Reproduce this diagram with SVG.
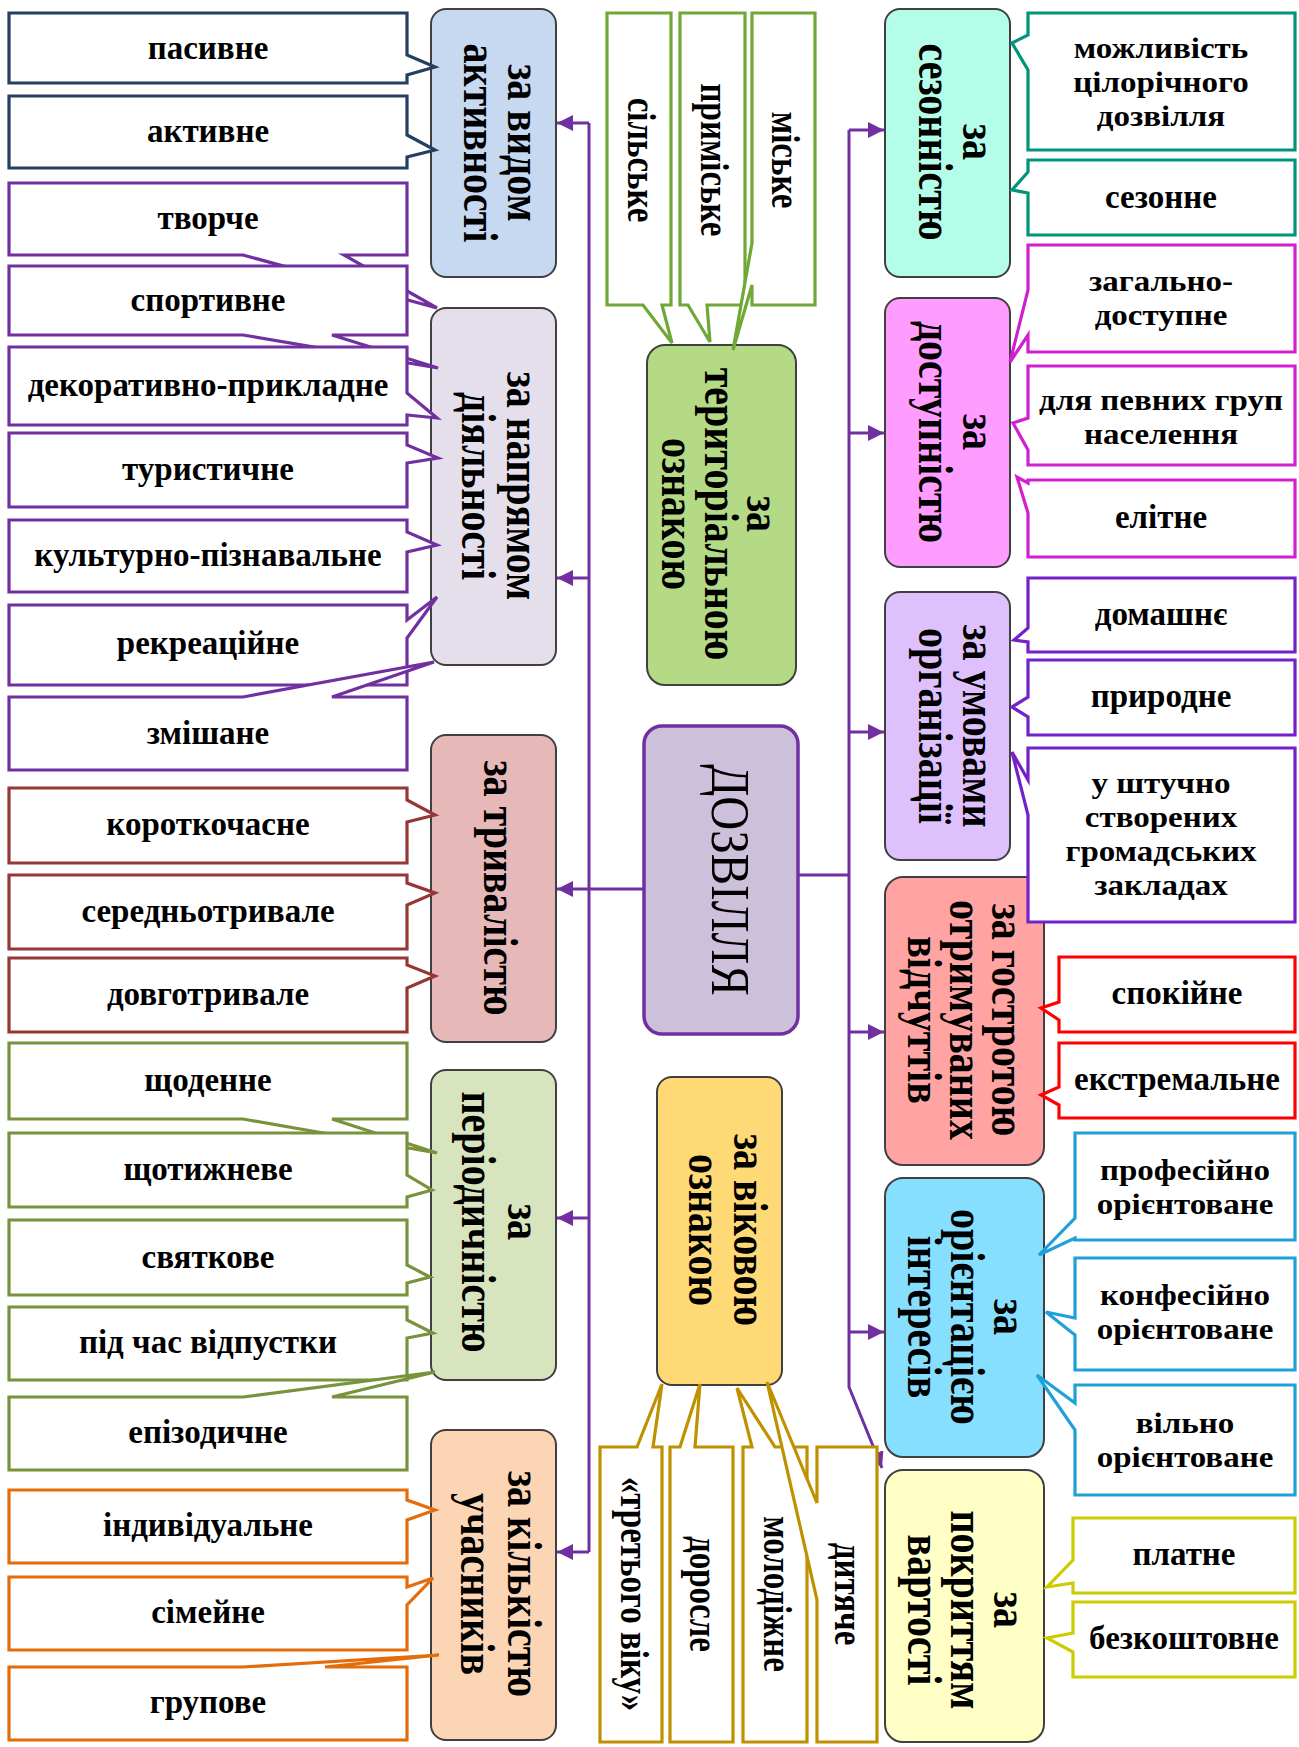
<svg xmlns="http://www.w3.org/2000/svg" width="1299" height="1747" viewBox="0 0 1299 1747">
<defs>
<style>
.cat{stroke:#404040;stroke-width:2}
.co{fill:#fff;stroke-width:3.2;stroke-linejoin:miter}
.t{font-family:"Liberation Serif","Times New Roman",serif;font-weight:bold;font-size:33px;text-anchor:middle;fill:#000}
.m{font-family:"Liberation Serif","Times New Roman",serif;font-weight:bold;font-size:30px;text-anchor:middle;fill:#000}
.r{font-family:"Liberation Serif","Times New Roman",serif;font-weight:bold;font-size:40px;text-anchor:middle;fill:#000}
.d{font-family:"Liberation Serif","Times New Roman",serif;font-size:47px;text-anchor:middle;fill:#000}
.cn{fill:none;stroke:#7030a0;stroke-width:3}
.navy{stroke:#243f60}.pur{stroke:#7030a0}.brn{stroke:#953735}.olv{stroke:#77933c}.org{stroke:#e46c0a}
.grn{stroke:#6fa836}.gld{stroke:#bf9000}.tea{stroke:#00957a}.mag{stroke:#d020d0}.vio{stroke:#7321c8}
.red{stroke:#ff0000}.blu{stroke:#1fa0d8}.yel{stroke:#cccc00}
</style>
<marker id="arr" viewBox="0 0 10 10" refX="10" refY="5" markerWidth="16" markerHeight="16" markerUnits="userSpaceOnUse" orient="auto"><path d="M0,0 L10,5 L0,10 z" fill="#7030a0"/></marker>
</defs>
<rect width="1299" height="1747" fill="#fff"/>

<g id="connectors">
<path class="cn" d="M589,123 V1552"/>
<path class="cn" d="M589,123 H557" marker-end="url(#arr)"/>
<path class="cn" d="M589,578 H557" marker-end="url(#arr)"/>
<path class="cn" d="M644,889 H557" marker-end="url(#arr)"/>
<path class="cn" d="M589,1218 H557" marker-end="url(#arr)"/>
<path class="cn" d="M589,1552 H557" marker-end="url(#arr)"/>
<path class="cn" d="M798,875 H849"/>
<path class="cn" d="M849,130 V1387 L882,1468" marker-end="url(#arr)"/>
<path class="cn" d="M849,130 H884" marker-end="url(#arr)"/>
<path class="cn" d="M849,433 H884" marker-end="url(#arr)"/>
<path class="cn" d="M849,732 H884" marker-end="url(#arr)"/>
<path class="cn" d="M849,1032 H884" marker-end="url(#arr)"/>
<path class="cn" d="M849,1332 H884" marker-end="url(#arr)"/>
</g>

<g id="n-dozvillia">
<rect x="644" y="726" width="154" height="308" rx="18" fill="#ccc0da" stroke="#7030a0" stroke-width="3.5"/>
<text class="d" transform="translate(712,880) scale(1.15,1) rotate(90)">ДОЗВІЛЛЯ</text>
</g>
<g id="n-vydom">
<rect class="cat" x="431" y="9" width="125" height="268" rx="15" fill="#c6d9f1"/>
<text class="r" transform="translate(508,143) scale(1.2,1) rotate(90)"><tspan x="0" y="0">за видом</tspan><tspan x="0" y="36.7">активності</tspan></text>
</g>
<g id="n-napriam">
<rect class="cat" x="431" y="308" width="125" height="357" rx="15" fill="#e5dfec"/>
<text class="r" transform="translate(507,486) scale(1.2,1) rotate(90)"><tspan x="0" y="0">за напрямом</tspan><tspan x="0" y="37.5">діяльності</tspan></text>
</g>
<g id="n-tryvalist">
<rect class="cat" x="431" y="735" width="125" height="307" rx="15" fill="#e6b9b8"/>
<text class="r" transform="translate(484,888) scale(1.2,1) rotate(90)">за тривалістю</text>
</g>
<g id="n-periodychnist">
<rect class="cat" x="431" y="1070" width="125" height="310" rx="15" fill="#d7e4bd"/>
<text class="r" transform="translate(508,1222) scale(1.2,1) rotate(90)"><tspan x="0" y="0">за</tspan><tspan x="0" y="38.3">періодичністю</tspan></text>
</g>
<g id="n-kilkist">
<rect class="cat" x="431" y="1430" width="125" height="310" rx="15" fill="#fcd5b5"/>
<text class="r" transform="translate(508,1584) scale(1.2,1) rotate(90)"><tspan x="0" y="0">за кількістю</tspan><tspan x="0" y="39.2">учасників</tspan></text>
</g>
<g id="n-terytorialna">
<rect class="cat" x="647" y="345" width="149" height="340" rx="18" fill="#b4da86"/>
<text class="r" transform="translate(747,514) scale(1.2,1) rotate(90)"><tspan x="0" y="0">за</tspan><tspan x="0" y="35">територіальною</tspan><tspan x="0" y="70.8">ознакою</tspan></text>
</g>
<g id="n-vikova">
<rect class="cat" x="657" y="1077" width="125" height="308" rx="15" fill="#ffd976"/>
<text class="r" transform="translate(734,1230) scale(1.2,1) rotate(90)"><tspan x="0" y="0">за віковою</tspan><tspan x="0" y="37.5">ознакою</tspan></text>
</g>
<g id="n-sezonnist">
<rect class="cat" x="885" y="9" width="125" height="268" rx="15" fill="#b4fee9"/>
<text class="r" transform="translate(963,142) scale(1.2,1) rotate(90)"><tspan x="0" y="0">за</tspan><tspan x="0" y="36.7">сезонністю</tspan></text>
</g>
<g id="n-dostupnist">
<rect class="cat" x="885" y="298" width="125" height="269" rx="15" fill="#ff9cff"/>
<text class="r" transform="translate(963,432) scale(1.2,1) rotate(90)"><tspan x="0" y="0">за</tspan><tspan x="0" y="36.7">доступністю</tspan></text>
</g>
<g id="n-umovy">
<rect class="cat" x="885" y="592" width="125" height="268" rx="15" fill="#dec1fc"/>
<text class="r" transform="translate(963,726) scale(1.2,1) rotate(90)"><tspan x="0" y="0">за умовами</tspan><tspan x="0" y="36.7">організації</tspan></text>
</g>
<g id="n-gostrota">
<rect class="cat" x="885" y="877" width="159" height="288" rx="18" fill="#ffa3a3"/>
<text class="r" transform="translate(992,1020) scale(1.2,1) rotate(90)"><tspan x="0" y="0">за гостротою</tspan><tspan x="0" y="35">отримуваних</tspan><tspan x="0" y="70">відчуттів</tspan></text>
</g>
<g id="n-oriientatsiia">
<rect class="cat" x="885" y="1178" width="159" height="279" rx="18" fill="#86dfff"/>
<text class="r" transform="translate(994,1317) scale(1.2,1) rotate(90)"><tspan x="0" y="0">за</tspan><tspan x="0" y="35.8">орієнтацією</tspan><tspan x="0" y="71.7">інтересів</tspan></text>
</g>
<g id="n-vartist">
<rect class="cat" x="885" y="1470" width="159" height="272" rx="18" fill="#ffffc6"/>
<text class="r" transform="translate(994,1610) scale(1.2,1) rotate(90)"><tspan x="0" y="0">за</tspan><tspan x="0" y="35.8">покриттям</tspan><tspan x="0" y="71.7">вартості</tspan></text>
</g>

<g id="c-pasyvne"><path class="co navy" d="M9,13 H407 V55 L435,67 L407,75 V83 H9 Z"/><text class="t" x="208" y="59">пасивне</text></g>
<g id="c-aktyvne"><path class="co navy" d="M9,96 H407 V135 L435,150 L407,157 V168 H9 Z"/><text class="t" x="208" y="142">активне</text></g>
<g id="c-tvorche"><path class="co pur" d="M9,183 H407 V255 H344 L437,308 L243,255 H9 Z"/><text class="t" x="208" y="229">творче</text></g>
<g id="c-sportyvne"><path class="co pur" d="M9,266 H407 V335 H332 L438,368 L243,335 H9 Z"/><text class="t" x="208" y="311">спортивне</text></g>
<g id="c-dekor"><path class="co pur" d="M9,347 H407 V393 L437,418 L407,415 V425 H9 Z"/><text class="t" x="208" y="396">декоративно-прикладне</text></g>
<g id="c-turyst"><path class="co pur" d="M9,433 H407 V445 L438,458 L407,463 V507 H9 Z"/><text class="t" x="208" y="480">туристичне</text></g>
<g id="c-kultur"><path class="co pur" d="M9,520 H407 V532 L437,545 L407,552 V592 H9 Z"/><text class="t" x="208" y="566">культурно-пізнавальне</text></g>
<g id="c-rekr"><path class="co pur" d="M9,605 H407 V620 L437,597 L407,638 V685 H9 Z"/><text class="t" x="208" y="654">рекреаційне</text></g>
<g id="c-zmish"><path class="co pur" d="M9,697 H243 L434,662 L332,697 H407 V770 H9 Z"/><text class="t" x="208" y="744">змішане</text></g>
<g id="c-korotko"><path class="co brn" d="M9,788 H407 V800 L435,815 L407,822 V863 H9 Z"/><text class="t" x="208" y="835">короткочасне</text></g>
<g id="c-seredno"><path class="co brn" d="M9,875 H407 V883 L435,893 L407,905 V949 H9 Z"/><text class="t" x="208" y="922">середньотривале</text></g>
<g id="c-dovgo"><path class="co brn" d="M9,958 H407 V965 L435,976 L407,988 V1032 H9 Z"/><text class="t" x="208" y="1005">довготривале</text></g>
<g id="c-shchoden"><path class="co olv" d="M9,1043 H407 V1119 H332 L437,1153 L243,1119 H9 Z"/><text class="t" x="208" y="1091">щоденне</text></g>
<g id="c-shchotyzh"><path class="co olv" d="M9,1133 H407 V1175 L432,1190 L407,1197 V1207 H9 Z"/><text class="t" x="208" y="1180">щотижневе</text></g>
<g id="c-sviatk"><path class="co olv" d="M9,1220 H407 V1265 L430,1277 L407,1283 V1295 H9 Z"/><text class="t" x="208" y="1268">святкове</text></g>
<g id="c-vidpust"><path class="co olv" d="M9,1307 H407 V1320 L433,1333 L407,1338 V1380 H9 Z"/><text class="t" x="208" y="1353">під час відпустки</text></g>
<g id="c-epizod"><path class="co olv" d="M9,1397 H243 L435,1372 L332,1397 H407 V1470 H9 Z"/><text class="t" x="208" y="1443">епізодичне</text></g>
<g id="c-indyv"><path class="co org" d="M9,1490 H407 V1500 L435,1510 L407,1520 V1563 H9 Z"/><text class="t" x="208" y="1536">індивідуальне</text></g>
<g id="c-simeine"><path class="co org" d="M9,1577 H407 V1587 L433,1578 L407,1605 V1650 H9 Z"/><text class="t" x="208" y="1623">сімейне</text></g>
<g id="c-grupove"><path class="co org" d="M9,1667 H243 L439,1655 L325,1667 H407 V1740 H9 Z"/><text class="t" x="208" y="1713">групове</text></g>

<g id="c-silske"><path class="co grn" d="M607,13 H671 V305 H662 L672,343 L643,305 H607 Z"/><text class="t" transform="translate(628,160) scale(1.2,1) rotate(90)">сільське</text></g>
<g id="c-primiske"><path class="co grn" d="M680,13 H745 V305 H707 L710,342 L688,305 H680 Z"/><text class="t" transform="translate(701,160) scale(1.2,1) rotate(90)">приміське</text></g>
<g id="c-miske"><path class="co grn" d="M752,13 H815 V305 H752 V285 L733,350 L752,243 Z"/><text class="t" transform="translate(772,160) scale(1.2,1) rotate(90)">міське</text></g>

<g id="c-tretii"><path class="co gld" d="M600,1447 H637 L662,1384 L653,1447 H662 V1742 H600 Z"/><text class="t" transform="translate(621,1594) scale(1.2,1) rotate(90)">«третього віку»</text></g>
<g id="c-dorosle"><path class="co gld" d="M670,1447 H680 L700,1384 L695,1447 H733 V1742 H670 Z"/><text class="t" transform="translate(690,1594) scale(1.2,1) rotate(90)">доросле</text></g>
<g id="c-molod"><path class="co gld" d="M743,1447 H752 L737,1388 L775,1447 H807 V1742 H743 Z"/><text class="t" transform="translate(764,1594) scale(1.2,1) rotate(90)">молодіжне</text></g>
<g id="c-dytiache"><path class="co gld" d="M817,1447 H877 V1742 H817 V1600 L767,1382 L817,1503 Z"/><text class="t" transform="translate(835,1594) scale(1.2,1) rotate(90)">дитяче</text></g>

<g id="c-tsilorich"><path class="co tea" d="M1028,13 H1295 V150 H1028 V70 L1012,43 L1028,35 Z"/><text class="m" transform="translate(1161,0) scale(1.1,1)"><tspan x="0" y="58">можливість</tspan><tspan x="0" y="92">цілорічного</tspan><tspan x="0" y="126">дозвілля</tspan></text></g>
<g id="c-sezonne"><path class="co tea" d="M1028,160 H1295 V235 H1028 V193 L1012,190 L1028,172 Z"/><text class="t" x="1161" y="208">сезонне</text></g>
<g id="c-zagalno"><path class="co mag" d="M1028,245 H1295 V352 H1028 V335 L1010,362 L1028,290 Z"/><text class="m" transform="translate(1161,0) scale(1.1,1)"><tspan x="0" y="291">загально-</tspan><tspan x="0" y="325">доступне</tspan></text></g>
<g id="c-pevnykh"><path class="co mag" d="M1028,366 H1295 V465 H1028 V450 L1013,423 L1028,418 Z"/><text class="m" transform="translate(1161,0) scale(1.1,1)"><tspan x="0" y="410">для певних груп</tspan><tspan x="0" y="444">населення</tspan></text></g>
<g id="c-elitne"><path class="co mag" d="M1028,480 H1295 V557 H1028 V513 L1017,477 L1028,483 Z"/><text class="t" x="1161" y="528">елітне</text></g>
<g id="c-domashnie"><path class="co vio" d="M1028,578 H1295 V652 H1028 V642 L1014,640 L1028,628 Z"/><text class="t" x="1161" y="625">домашнє</text></g>
<g id="c-pryrodne"><path class="co vio" d="M1028,660 H1295 V735 H1028 V717 L1012,707 L1028,697 Z"/><text class="t" x="1161" y="707">природне</text></g>
<g id="c-shtuchno"><path class="co vio" d="M1028,748 H1295 V922 H1028 V815 L1012,752 L1028,780 Z"/><text class="m" transform="translate(1161,0) scale(1.1,1)"><tspan x="0" y="793">у штучно</tspan><tspan x="0" y="827">створених</tspan><tspan x="0" y="861">громадських</tspan><tspan x="0" y="895">закладах</tspan></text></g>
<g id="c-spokiine"><path class="co red" d="M1059,957 H1295 V1032 H1059 V1020 L1041,1008 L1059,1002 Z"/><text class="t" x="1177" y="1004">спокійне</text></g>
<g id="c-ekstrem"><path class="co red" d="M1059,1043 H1295 V1118 H1059 V1105 L1041,1095 L1059,1087 Z"/><text class="t" x="1177" y="1090">екстремальне</text></g>
<g id="c-profes"><path class="co blu" d="M1075,1133 H1295 V1240 H1075 V1238 L1039,1255 L1075,1218 Z"/><text class="m" transform="translate(1185,0) scale(1.1,1)"><tspan x="0" y="1180">професійно</tspan><tspan x="0" y="1214">орієнтоване</tspan></text></g>
<g id="c-konfes"><path class="co blu" d="M1075,1258 H1295 V1370 H1075 V1335 L1046,1312 L1075,1318 Z"/><text class="m" transform="translate(1185,0) scale(1.1,1)"><tspan x="0" y="1305">конфесійно</tspan><tspan x="0" y="1339">орієнтоване</tspan></text></g>
<g id="c-vilno"><path class="co blu" d="M1075,1385 H1295 V1495 H1075 V1430 L1037,1375 L1075,1403 Z"/><text class="m" transform="translate(1185,0) scale(1.1,1)"><tspan x="0" y="1433">вільно</tspan><tspan x="0" y="1467">орієнтоване</tspan></text></g>
<g id="c-platne"><path class="co yel" d="M1073,1518 H1295 V1593 H1073 V1583 L1047,1587 L1073,1560 Z"/><text class="t" x="1184" y="1565">платне</text></g>
<g id="c-bezkosht"><path class="co yel" d="M1073,1602 H1295 V1677 H1073 V1652 L1047,1638 L1073,1633 Z"/><text class="t" x="1184" y="1649">безкоштовне</text></g>
</svg>
